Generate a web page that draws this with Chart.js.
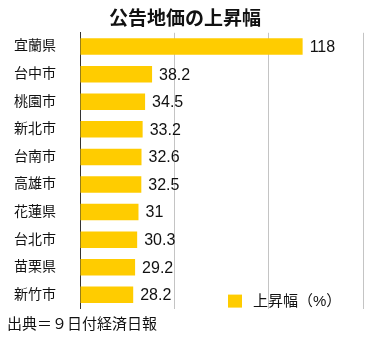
<!DOCTYPE html>
<html>
<head>
<meta charset="utf-8">
<script src="https://cdn.jsdelivr.net/npm/chart.js@4"></script>
<style>
    html, body { margin: 0; padding: 0; background: #fff; }
    #wrap { width: 376px; height: 341px; }
</style>
</head>
<body>
<div id="wrap"><canvas id="rise-chart"></canvas></div>
<script>
// Data
const cities = ['宜蘭県', '台中市', '桃園市', '新北市', '台南市', '高雄市', '花蓮県', '台北市', '苗栗県', '新竹市'];
const riseValues = [118, 38.2, 34.5, 33.2, 32.6, 32.5, 31, 30.3, 29.2, 28.2];
const seriesLabel = '上昇幅（%）';
const chartTitle = '公告地価の上昇幅';
const sourceNote = '出典＝９日付経済日報';

const barColor = '#FFCC00';
const fontFamily = '"Liberation Sans", "Noto Sans CJK JP", sans-serif';

// Value labels at the bar ends
const valueLabels = {
    id: 'valueLabels',
    afterDatasetsDraw(chart) {
        const ctx = chart.ctx;
        const meta = chart.getDatasetMeta(0);
        ctx.save();
        ctx.font = '16px ' + fontFamily;
        ctx.fillStyle = '#111';
        ctx.textBaseline = 'middle';
        ctx.textAlign = 'left';
        meta.data.forEach((bar, i) => {
            ctx.fillText(String(chart.data.datasets[0].data[i]), bar.x + 7, bar.y + 1);
        });
        ctx.restore();
    }
};

// Legend box inside the plot, lower right
const innerLegend = {
    id: 'innerLegend',
    afterDraw(chart) {
        const ctx = chart.ctx;
        const area = chart.chartArea;
        const ds = chart.data.datasets[0];
        const x = area.left + 148;
        const y = area.bottom - 14;
        ctx.save();
        ctx.fillStyle = ds.backgroundColor;
        ctx.fillRect(x, y, 14, 13);
        ctx.font = '15px ' + fontFamily;
        ctx.fillStyle = '#111';
        ctx.textBaseline = 'middle';
        ctx.fillText(ds.label, x + 25, y + 7);
        ctx.restore();
    }
};

new Chart(document.getElementById('rise-chart'), {
    type: 'bar',
    data: {
        labels: cities,
        datasets: [{
            label: seriesLabel,
            data: riseValues,
            backgroundColor: barColor,
            borderWidth: 0,
            barPercentage: 0.6,
            categoryPercentage: 1
        }]
    },
    options: {
        indexAxis: 'y',
        responsive: true,
        maintainAspectRatio: false,
        animation: false,
        layout: { padding: { left: 7, right: 13, top: 0, bottom: 0 } },
        plugins: {
            legend: { display: false },
            tooltip: { enabled: false },
            title: {
                display: true,
                text: chartTitle,
                color: '#111',
                font: { family: fontFamily, size: 19, weight: 'bold' },
                padding: { top: 8, bottom: 2 }
            },
            subtitle: {
                display: true,
                text: sourceNote,
                position: 'bottom',
                align: 'start',
                color: '#111',
                font: { family: fontFamily, size: 15 },
                padding: { top: 7, bottom: 3 }
            }
        },
        scales: {
            x: {
                min: 0,
                max: 150,
                ticks: { display: false, stepSize: 50 },
                grid: { color: '#c4c4c4', drawTicks: false },
                border: { display: false }
            },
            y: {
                afterFit: (scale) => { scale.width = 73; },
                ticks: {
                    color: '#111',
                    padding: 24,
                    font: { family: fontFamily, size: 14 }
                },
                grid: { display: false, drawTicks: false },
                border: { display: true, color: '#333', width: 1 }
            }
        }
    },
    plugins: [valueLabels, innerLegend]
});
</script>
</body>
</html>
